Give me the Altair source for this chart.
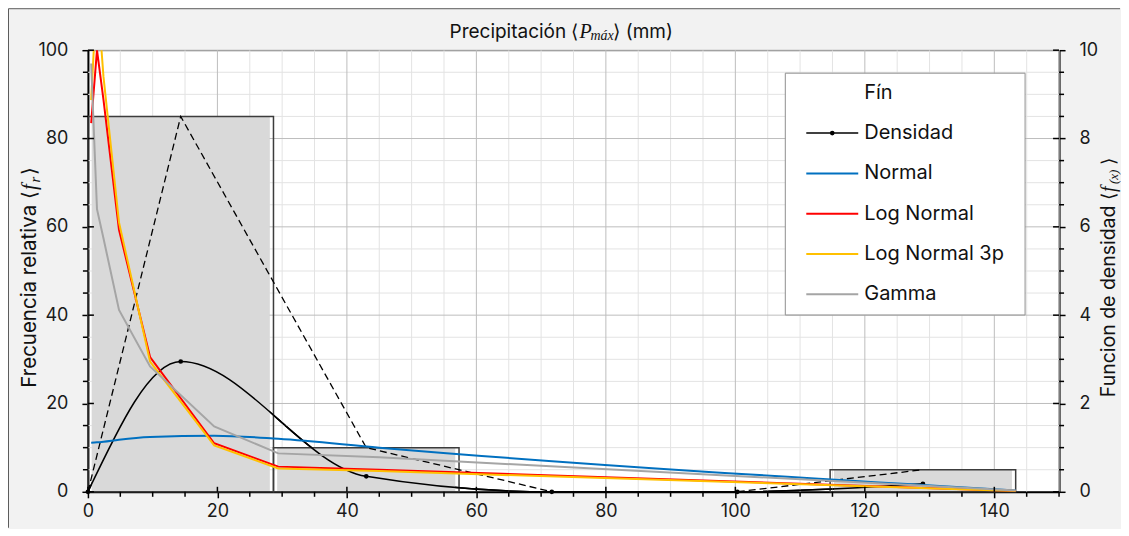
import altair as alt
import pandas as pd

# ---------------- data ----------------
BIN_EDGES = [0.0, 28.66, 57.32, 85.98, 114.64, 143.3]
FREQ_REL = [85, 10, 0, 0, 5]                       # frecuencia relativa (%)
POLY_X = [0.0, 14.33, 42.99, 71.65, 100.31, 128.97]
POLY_Y = [0, 85, 10, 0, 0, 5]
DENS_X = [0.0, 14.33, 42.99, 71.65, 100.31, 128.97]
DENS_Y = [0.0, 2.95, 0.35, 0.0, 0.0, 0.18]         # funcion de densidad

FIT_X = [0.5, 1.4, 2.4, 4.8, 9.6, 19.5, 29.4, 45.0, 143.3]
NORMAL = [1.11, 1.12, 1.135, 1.18, 1.24, 1.27, 1.20, 1.00, 0.03]
LOGNORMAL = [8.35, 10.0, 8.88, 5.93, 3.05, 1.10, 0.57, 0.50, 0.02]
LOGNORMAL3P = [8.87, 11.4, 9.4, 6.1, 2.95, 1.05, 0.53, 0.47, 0.02]
GAMMA = [9.7, 6.4, 5.74, 4.12, 2.84, 1.48, 0.87, 0.78, 0.03]

SERIES = ["Densidad", "Normal", "Log Normal", "Log Normal 3p", "Gamma"]
COLORS = ["#000000", "#0070C0", "#FF0000", "#FFC000", "#A5A5A5"]
LEGEND_TITLE = "Fín"

X_MAJOR = list(range(0, 141, 20))
X_MINOR = [v for v in range(0, 151, 5) if v % 20 != 0]
YL_MAJOR = list(range(0, 101, 20))
YL_MINOR = [v for v in range(0, 101, 5) if v % 20 != 0]
YR_MAJOR = [0, 2, 4, 6, 8, 10]
YR_MINOR = [i / 2 for i in range(0, 21) if i % 4 != 0]
RATIO = 10  # left axis units per right axis unit (100 / 10)

# ---------------- layout ----------------
W, H = 972, 442
PAD_L, PAD_T, PAD_R, PAD_B = 80, 42, 61, 36
FONT = "Inter"
MATH = "Liberation Serif"
GRID_MINOR = "#e3e3e3"
GRID_MAJOR = "#bdbdbd"

xs = alt.Scale(domain=[0, 150], nice=False, zero=False)
ys = alt.Scale(domain=[0, 100], nice=False)

common_axis = dict(grid=False, tickSize=6, tickWidth=1.5, tickColor="black",
                   domainColor="black", domainWidth=2, labelFont=FONT, labelFontSize=18,
                   labelColor="#1a1a1a", title=None, labelOverlap=False, labelFlush=False)
x_axis = alt.Axis(values=X_MAJOR, labelPadding=5, orient="bottom", **common_axis)
yl_axis = alt.Axis(values=YL_MAJOR, labelPadding=14, orient="left", **common_axis)
yr_axis = alt.Axis(values=[v * RATIO for v in YR_MAJOR], orient="right", labelPadding=14,
                   labelExpr="format(datum.value / %d, 'd')" % RATIO, **common_axis)

bars = pd.DataFrame({"x0": BIN_EDGES[:-1], "x1": BIN_EDGES[1:], "f": FREQ_REL})
poly = pd.DataFrame({"x": POLY_X, "y": POLY_Y})
dens = pd.DataFrame({"x": DENS_X, "d": DENS_Y})

# every layer declares the same x axis, so the shared x axis merges cleanly
X = lambda f: alt.X(f, scale=xs, axis=x_axis)
Y = lambda f: alt.Y(f, scale=ys, axis=None)


def vlines(vals, color):
    return alt.Chart(pd.DataFrame({"v": vals})).mark_rule(color=color, strokeWidth=1).encode(x=X("v:Q"))


def hlines(vals, color):
    return alt.Chart(pd.DataFrame({"v": vals})).mark_rule(color=color, strokeWidth=1).encode(y=Y("v:Q"))


def xticks(vals, y0, y1):
    return alt.Chart(pd.DataFrame({"v": vals})).mark_rule(color="black", strokeWidth=1.5).encode(
        x=X("v:Q"), y=alt.value(y0), y2=alt.value(y1))


def yticks(vals, x0, x1, k=1):
    return alt.Chart(pd.DataFrame({"v": vals})).transform_calculate(w="datum.v * %g" % k).mark_rule(
        color="black", strokeWidth=1.5).encode(y=Y("w:Q"), x=alt.value(x0), x2=alt.value(x1))


one = pd.DataFrame({"k": [0]})
# invisible box fixing the outer size of the figure, plus its visible top/left border
bounds = alt.Chart(one).mark_rect(filled=False, stroke="#f2f2f2", strokeWidth=1).encode(
    x=alt.value(-PAD_L + 0.5), x2=alt.value(W + PAD_R - 0.5),
    y=alt.value(-PAD_T + 0.5), y2=alt.value(H + PAD_B - 0.5))
border_top = alt.Chart(one).mark_rule(color="#5a5a5a", strokeWidth=1).encode(
    x=alt.value(-PAD_L + 0.5), x2=alt.value(W + PAD_R), y=alt.value(-PAD_T + 0.5))
border_left = alt.Chart(one).mark_rule(color="#5a5a5a", strokeWidth=1).encode(
    x=alt.value(-PAD_L + 0.5), y=alt.value(-PAD_T + 0.5), y2=alt.value(H + PAD_B))

bar_fill = alt.Chart(bars).transform_filter("datum.f > 0").transform_calculate(
    a="datum.x0 + 0.6", b="datum.x1 - 0.6"
).mark_rect(color="#d9d9d9").encode(
    x=X("a:Q"), x2="b:Q",
    y=alt.Y("f:Q", scale=ys, axis=yl_axis), y2=alt.datum(0),
)
bar_line = alt.Chart(bars).transform_filter("datum.f > 0").mark_rect(
    filled=False, stroke="#3c3c3c", strokeWidth=1.5
).encode(x=X("x0:Q"), x2="x1:Q", y=Y("f:Q"), y2=alt.datum(0))
polygon = alt.Chart(poly).mark_line(color="black", strokeWidth=1.3, strokeDash=[7, 4]).encode(
    x=X("x:Q"), y=Y("y:Q"))

# right axis carrier (funcion de densidad)
dens_line = alt.Chart(dens).transform_calculate(y="datum.d * %d" % RATIO).mark_line(
    color="black", strokeWidth=1.5, interpolate="monotone"
).encode(x=X("x:Q"), y=alt.Y("y:Q", scale=ys, axis=yr_axis))
dens_pts = alt.Chart(dens).transform_calculate(y="datum.d * %d" % RATIO).mark_circle(
    color="black", size=22, opacity=1).encode(x=X("x:Q"), y=Y("y:Q"))

fits = []
for name, vals, col in zip(SERIES[1:], [NORMAL, LOGNORMAL, LOGNORMAL3P, GAMMA], COLORS[1:]):
    df = pd.DataFrame({"x": FIT_X, "d": vals})
    interp = "monotone" if name == "Normal" else "linear"
    fits.append(alt.Chart(df).transform_calculate(y="datum.d * %d" % RATIO).mark_line(
        color=col, strokeWidth=2, clip=True, interpolate=interp).encode(x=X("x:Q"), y=Y("y:Q")))


def txt(s, x, y, size=19, align="left", angle=0, style="normal", font=FONT):
    return alt.Chart(one).mark_text(text=s, align=align, baseline="middle", angle=angle, fontSize=size,
                                    font=font, fontStyle=style, color="#111111").encode(
        x=alt.value(x), y=alt.value(y))


legend_box = alt.Chart(one).mark_rect(fill="white", stroke="#8f8f8f", strokeWidth=1).encode(
    x=alt.value(698), x2=alt.value(938), y=alt.value(23), y2=alt.value(265))
legend_layers = [legend_box, txt(LEGEND_TITLE, 777, 43, size=20)]
for i, (name, col) in enumerate(zip(SERIES, COLORS)):
    yy = 83 + i * 40.3
    legend_layers.append(alt.Chart(one).mark_rule(color=col, strokeWidth=2 if i else 1.5).encode(
        x=alt.value(719), x2=alt.value(771), y=alt.value(yy)))
    if i == 0:
        legend_layers.append(alt.Chart(one).mark_circle(color="black", size=22, opacity=1).encode(
            x=alt.value(745), y=alt.value(yy)))
    legend_layers.append(txt(name, 777, yy, size=20))

titles = [
    txt("Precipitación ⟨", 491, -18, size=19, align="right"),
    txt("P", 492, -18, size=20, style="italic", font=MATH),
    txt("máx", 503, -14, size=14, style="italic", font=MATH),
    txt("⟩ (mm)", 526, -18, size=19),
    # left axis title (rotated, reading upwards)
    txt("Frecuencia relativa ⟨", -58, 141, size=20.5, align="right", angle=270),
    txt("f", -58, 140, size=21, style="italic", font=MATH, angle=270),
    txt("r", -53, 132.5, size=15, style="italic", font=MATH, angle=270),
    txt("⟩", -58, 125, size=20.5, angle=270),
    # right axis title (rotated, reading upwards)
    txt("Funcion de densidad ⟨", 1022, 143, size=19.5, angle=270, align="right"),
    txt("f", 1022, 142, size=20, style="italic", font=MATH, angle=270),
    txt("(x)", 1027, 134, size=13, style="italic", font=MATH, angle=270),
    txt("⟩", 1022, 115, size=19.5, angle=270),
]

layers = [
    bar_fill,                     # carries x axis and left y axis
    dens_line,                    # carries right y axis
    bounds, border_top, border_left,
    vlines(X_MINOR, GRID_MINOR), hlines(YL_MINOR, GRID_MINOR),
    vlines(X_MAJOR[1:], GRID_MAJOR), hlines(YL_MAJOR[1:], GRID_MAJOR),
    bar_fill.encode(y=Y("f:Q")), bar_line, polygon,
    dens_line.encode(y=Y("y:Q")), dens_pts, *fits,
    xticks(X_MAJOR, H, H - 5), xticks(X_MINOR, H, H + 5),
    yticks(YL_MAJOR, 0, 6), yticks(YL_MINOR, -5, 0),
    yticks(YR_MAJOR, W - 6, W, RATIO), yticks(YR_MINOR, W, W + 5, RATIO),
    *legend_layers, *titles,
]

chart = alt.layer(*layers).resolve_axis(y="independent").properties(
    width=W, height=H, padding=0, background="#f2f2f2",
).configure_view(stroke="#4a4a4a", strokeWidth=1, fill="white")

chart.save("out.html", embed_options={"renderer": "svg", "actions": False})
